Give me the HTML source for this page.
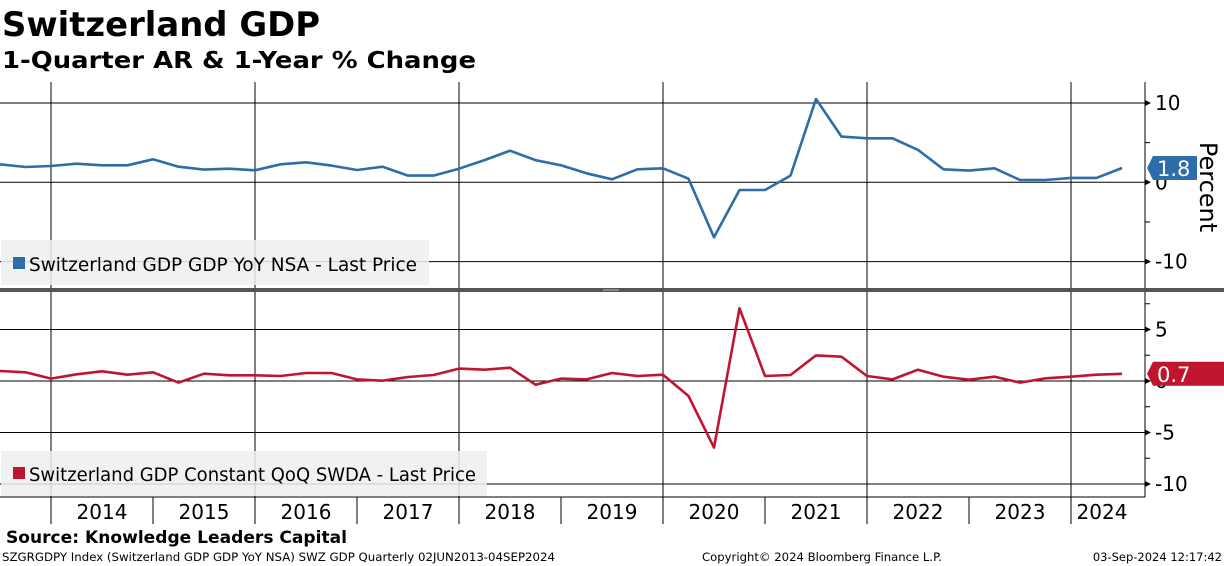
<!DOCTYPE html>
<html><head><meta charset="utf-8"><style>
body{margin:0;width:1224px;height:566px;background:#fff;overflow:hidden;font-family:"DejaVu Sans","Liberation Sans",sans-serif;}
svg{display:block}
</style></head><body>
<svg id="chart" width="1224" height="566" xmlns="http://www.w3.org/2000/svg">
<text x="2" y="36" font-family="DejaVu Sans, sans-serif" font-weight="bold" font-size="34" textLength="318" lengthAdjust="spacingAndGlyphs">Switzerland GDP</text>
<text x="2" y="68" font-family="DejaVu Sans, sans-serif" font-weight="bold" font-size="23" textLength="474" lengthAdjust="spacingAndGlyphs">1-Quarter AR &amp; 1-Year % Change</text>
<g id="grid"></g>
<g id="marks"></g>
<text x="6" y="543" font-family="DejaVu Sans, sans-serif" font-weight="bold" font-size="17" textLength="341" lengthAdjust="spacingAndGlyphs">Source: Knowledge Leaders Capital</text>
<text x="2" y="561" font-family="DejaVu Sans, sans-serif" font-size="11.5" textLength="553" lengthAdjust="spacingAndGlyphs">SZGRGDPY Index (Switzerland GDP GDP YoY NSA) SWZ GDP  Quarterly 02JUN2013-04SEP2024</text>
<text x="702" y="561" font-family="DejaVu Sans, sans-serif" font-size="11.5" textLength="240" lengthAdjust="spacingAndGlyphs">Copyright© 2024 Bloomberg Finance L.P.</text>
<text x="1222" y="561" text-anchor="end" font-family="DejaVu Sans, sans-serif" font-size="11.5">03-Sep-2024 12:17:42</text>
</svg>
<script>
const yoyValues=[2.27,1.93,2.06,2.35,2.14,2.14,2.9,1.97,1.6,1.72,1.51,2.27,2.52,2.1,1.55,1.97,0.84,0.84,1.72,2.8,3.99,2.8,2.14,1.13,0.38,1.64,1.76,0.46,-6.93,-0.97,-0.97,0.84,10.5,5.76,5.55,5.55,4.08,1.64,1.47,1.76,0.29,0.29,0.55,0.55,1.8];
const qoqValues=[0.97,0.84,0.23,0.65,0.94,0.61,0.84,-0.16,0.71,0.55,0.55,0.49,0.78,0.78,0.16,0.03,0.39,0.58,1.2,1.1,1.29,-0.36,0.23,0.16,0.78,0.49,0.61,-1.46,-6.47,7.06,0.49,0.58,2.49,2.36,0.49,0.16,1.1,0.42,0.13,0.42,-0.16,0.26,0.42,0.61,0.7];
const yearLabels=["2014","2015","2016","2017","2018","2019","2020","2021","2022","2023","2024"];
const topTicks=["10","0","-10"];
const botTicks=["5","0","-5","-10"];
const NS="http://www.w3.org/2000/svg";
const grid=document.getElementById('grid'),marks=document.getElementById('marks');
function mk(tag,attrs,parent){const e=document.createElementNS(NS,tag);for(const k in attrs)e.setAttribute(k,attrs[k]);(parent||grid).appendChild(e);return e;}
const AX=1145;
const xQ=i=>i*25.5;
const xYear=y=>51+(y-2014)*102;
const yTop=v=>182.3-v*7.93;
const yBot=v=>381-v*10.3;
let e;
for(let y=2014;y<=2024;y+=2){
 e=mk('line',{x1:xYear(y),y1:82,x2:xYear(y),y2:497,stroke:'#000','stroke-width':1});
 
}
[10,0,-10].forEach((v,i)=>{
 e=mk('line',{x1:0,y1:yTop(v),x2:AX,y2:yTop(v),stroke:'#000','stroke-width':1});
 
 e=mk('polygon',{points:`${AX},${yTop(v)-3} ${AX+6},${yTop(v)} ${AX},${yTop(v)+3}`,fill:'#000'});
 
 e=mk('text',{x:AX+10,y:yTop(v)+7,'font-size':20,'font-family':'DejaVu Sans, sans-serif'});
 e.textContent=topTicks[i];
 
});
[5,-5].forEach(v=>{e=mk('line',{x1:AX,y1:yTop(v),x2:AX+5,y2:yTop(v),stroke:'#000'});});
[5,0,-5,-10].forEach((v,i)=>{
 e=mk('line',{x1:0,y1:yBot(v),x2:AX,y2:yBot(v),stroke:'#000','stroke-width':1});
 
 e=mk('polygon',{points:`${AX},${yBot(v)-3} ${AX+6},${yBot(v)} ${AX},${yBot(v)+3}`,fill:'#000'});
 
 e=mk('text',{x:AX+10,y:yBot(v)+7,'font-size':20,'font-family':'DejaVu Sans, sans-serif'});
 e.textContent=botTicks[i];
 
});
[7.5,2.5,-2.5,-7.5].forEach(v=>{e=mk('line',{x1:AX,y1:yBot(v),x2:AX+5,y2:yBot(v),stroke:'#000'});});
e=mk('line',{x1:AX,y1:82,x2:AX,y2:497,stroke:'#000'});
e=mk('line',{x1:0,y1:497,x2:AX,y2:497,stroke:'#000'});
e=mk('rect',{x:0,y:288,width:1224,height:4,fill:'#555'});
e=mk('line',{x1:603,y1:290,x2:619,y2:290,stroke:'#bbb','stroke-width':1});
for(let y=2014;y<=2024;y++){
 e=mk('line',{x1:xYear(y),y1:497,x2:xYear(y),y2:524,stroke:'#000'});
 
}
yearLabels.forEach(lab=>{
 const y=+lab; const cx=Math.min((xYear(y)+xYear(y+1))/2, (xYear(y)+AX)/2-6);
 e=mk('text',{x:cx,y:519,'text-anchor':'middle','font-size':20,'font-family':'DejaVu Sans, sans-serif'});
 e.textContent=lab;
 
});
e=mk('text',{x:0,y:0,'font-size':24,'font-family':'DejaVu Sans, sans-serif','text-anchor':'middle',transform:'translate(1200,187) rotate(90)'});
e.textContent='Percent';
e=mk('rect',{x:1,y:240,width:428,height:45,fill:'#eeeeee',rx:2,opacity:0.85},marks);

e=mk('rect',{x:13,y:257,width:12,height:12,fill:'#2e6da8'},marks);

e=mk('text',{x:29,y:271,'font-size':19,'font-family':'DejaVu Sans, sans-serif',textLength:388,lengthAdjust:'spacingAndGlyphs'},marks);
e.textContent='Switzerland GDP GDP YoY NSA - Last Price';
e=mk('rect',{x:1,y:451,width:486,height:45,fill:'#eeeeee',rx:2,opacity:0.85},marks);

e=mk('rect',{x:13,y:467,width:12,height:12,fill:'#c0152f'},marks);

e=mk('text',{x:29,y:481,'font-size':19,'font-family':'DejaVu Sans, sans-serif',textLength:447,lengthAdjust:'spacingAndGlyphs'},marks);
e.textContent='Switzerland GDP Constant QoQ SWDA - Last Price';
const p1=yoyValues.map((v,i)=>xQ(i).toFixed(1)+','+yTop(v).toFixed(1)).join(' ');
e=mk('polyline',{points:p1,fill:'none',stroke:'#2e6da8','stroke-width':2.6,'stroke-linejoin':'round'},marks);

const p2=qoqValues.map((v,i)=>xQ(i).toFixed(1)+','+yBot(v).toFixed(1)).join(' ');
e=mk('polyline',{points:p2,fill:'none',stroke:'#c0152f','stroke-width':2.6,'stroke-linejoin':'round'},marks);

function flag(v,yf,color,w,name){
 const y=yf(v);
 e=mk('polygon',{points:`${AX+2},${y} ${AX+8},${y-12} ${AX+8+w},${y-12} ${AX+8+w},${y+12} ${AX+8},${y+12}`,fill:color},marks);
 
 e=mk('text',{x:AX+12,y:y+8,'font-size':21,fill:'#fff','font-family':'DejaVu Sans, sans-serif'},marks);
 e.textContent=v.toFixed(1);
 
}
flag(yoyValues[yoyValues.length-1],yTop,'#2e6da8',44,'yoy-last-value');
flag(qoqValues[qoqValues.length-1],yBot,'#c0152f',80,'qoq-last-value');
</script>
</body></html>
